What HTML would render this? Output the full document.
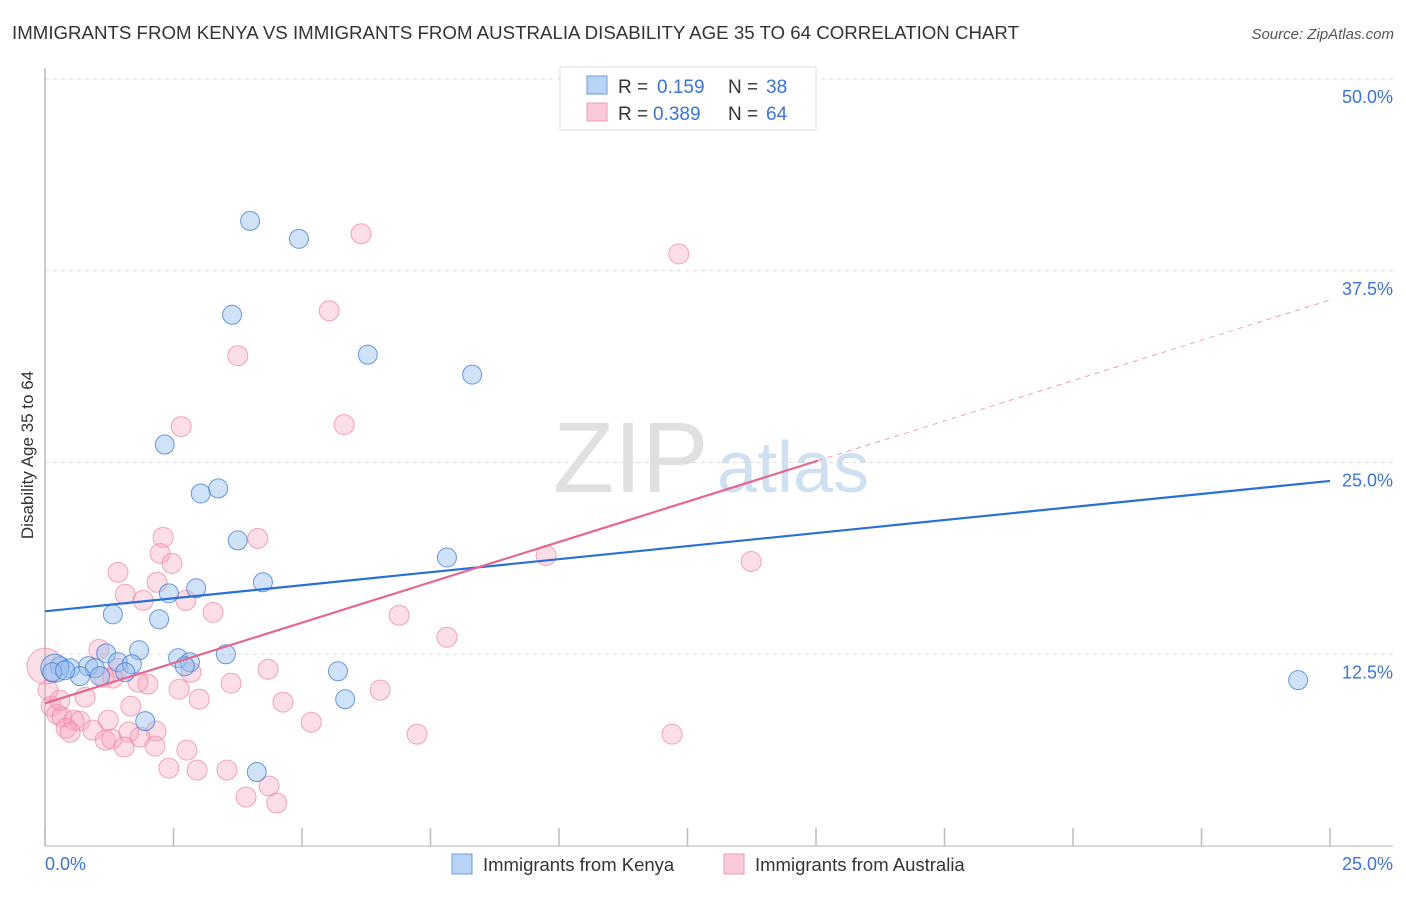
<!DOCTYPE html>
<html><head><meta charset="utf-8"><style>
body{margin:0;background:#fff;font-family:"Liberation Sans",sans-serif}
svg text{font-family:"Liberation Sans",sans-serif}
</style></head><body>
<svg width="1406" height="892" viewBox="0 0 1406 892">
<text x="12" y="39" font-size="18" fill="#333" textLength="1007" lengthAdjust="spacingAndGlyphs">IMMIGRANTS FROM KENYA VS IMMIGRANTS FROM AUSTRALIA DISABILITY AGE 35 TO 64 CORRELATION CHART</text>
<text x="1394" y="39" font-size="15" fill="#555" font-style="italic" text-anchor="end">Source: ZipAtlas.com</text>
<text x="553" y="492" font-size="100" fill="#e0e0e0" font-family="Liberation Serif">ZIP</text>
<text x="717" y="492" font-size="72" fill="#cfe0f2">atlas</text>
<g id="grid"></g>
<g id="axes"></g>
<g id="pts"></g>
<g id="lines"></g>
<text transform="translate(33,455) rotate(-90)" font-size="17" fill="#333" text-anchor="middle">Disability Age 35 to 64</text>
<text x="45" y="870" font-size="18" fill="#3b73d6">0.0%</text>
<text x="1393" y="870" font-size="18" fill="#3b73d6" text-anchor="end">25.0%</text>
<g>
<rect x="560" y="67" width="256" height="63" fill="#fff" stroke="#ddd"/>
<rect x="587" y="76" width="20" height="18" fill="#b9d3f5" stroke="#6a9ee0"/>
<rect x="587" y="103" width="20" height="18" fill="#fbcad8" stroke="#ec9ab2"/>
<text x="618" y="93" font-size="19" fill="#333">R =</text>
<text x="657" y="93" font-size="19" fill="#3b73d6">0.159</text>
<text x="728" y="93" font-size="19" fill="#333">N =</text>
<text x="766" y="93" font-size="19" fill="#3b73d6">38</text>
<text x="618" y="120" font-size="19" fill="#333">R =</text>
<text x="653" y="120" font-size="19" fill="#3b73d6">0.389</text>
<text x="728" y="120" font-size="19" fill="#333">N =</text>
<text x="766" y="120" font-size="19" fill="#3b73d6">64</text>
</g>
<g>
<rect x="452" y="854" width="20" height="20" fill="#b9d3f5" stroke="#6a9ee0"/>
<text x="483" y="871" font-size="18.5" fill="#333">Immigrants from Kenya</text>
<rect x="724" y="854" width="20" height="20" fill="#fbcad8" stroke="#ec9ab2"/>
<text x="755" y="871" font-size="18.5" fill="#333">Immigrants from Australia</text>
</g>
</svg>
<script>
const yTicks=[12.5,25,37.5,50];
const yTickLabels=["12.5%","25.0%","37.5%","50.0%"];
const xTicks=[0,2.5,5,7.5,10,12.5,15,17.5,20,22.5,25];
const kenyaX=[3.99,4.94,3.64,6.28,8.31,2.33,3.03,3.37,3.75,7.82,4.24,2.94,2.41,1.32,2.22,1.83,1.19,3.52,2.59,2.82,1.42,1.69,2.72,0.29,0.49,0.84,0.97,1.56,5.70,5.84,1.95,4.12,24.38,0.19,0.68,1.07,0.14,0.39];
const kenyaY=[40.75,39.58,34.63,32.03,30.73,26.17,22.98,23.31,19.92,18.81,17.19,16.80,16.47,15.10,14.78,12.76,12.56,12.50,12.24,11.98,11.98,11.85,11.72,11.72,11.59,11.72,11.59,11.33,11.39,9.57,8.14,4.82,10.81,11.59,11.07,11.07,11.33,11.46];
const ausX=[6.15,12.33,5.53,3.75,5.82,2.65,2.30,4.14,2.24,9.75,13.74,2.47,1.42,2.18,1.56,1.91,2.74,3.27,6.89,7.82,1.05,1.42,4.34,1.15,2.84,2.00,3.62,1.32,1.81,2.61,6.52,0.78,3.00,4.63,1.67,0.12,0.23,0.33,1.23,0.56,0.68,5.18,0.41,0.93,0.49,1.63,2.16,1.85,1.17,1.30,7.24,12.20,2.14,1.54,2.76,2.41,2.96,3.54,4.36,3.91,4.51,0,0.06,0.29];
const ausY=[39.91,38.60,34.89,31.96,27.47,27.34,20.12,20.05,19.07,18.94,18.55,18.42,17.84,17.19,16.41,16.01,16.01,15.23,15.04,13.61,12.82,11.59,11.52,11.00,11.33,10.55,10.61,10.94,10.68,10.22,10.16,9.70,9.57,9.38,9.11,9.11,8.59,8.40,8.20,8.20,8.14,8.07,7.68,7.55,7.42,7.42,7.49,7.10,6.90,6.97,7.29,7.29,6.51,6.45,6.25,5.08,4.95,4.95,3.91,3.19,2.80,11.72,10.16,9.50];
const kenyaTrend=[15.3,23.8];
const ausTrend=[9.3,35.6];
const ausSolidEnd=15.04;
const X0=45,X1=1330,Y0=846,Y1=79;
const sx=v=>X0+(X1-X0)*v/25, sy=v=>Y0-(Y0-Y1)*v/50;
const NS="http://www.w3.org/2000/svg";
function mk(t,a,p){const e=document.createElementNS(NS,t);for(const k in a)e.setAttribute(k,a[k]);p.appendChild(e);return e;}
const grid=document.getElementById('grid');
yTicks.forEach((t,i)=>{
 const l=mk('line',{x1:45,x2:1393,y1:sy(t),y2:sy(t),stroke:'#ddd','stroke-dasharray':'4,4'},grid);
 
 
 const tx=mk('text',{x:1393,y:sy(t)+24,'font-size':18,fill:'#3b73d6','text-anchor':'end'},grid);
 tx.textContent=yTickLabels[i];
 
 
});
const ax=document.getElementById('axes');
const la=mk('line',{x1:45,x2:45,y1:68,y2:846,stroke:'#bbb','stroke-width':1.5},ax);


const lb=mk('line',{x1:45,x2:1393,y1:846,y2:846,stroke:'#ccc','stroke-width':1.5},ax);


xTicks.forEach(t=>{
 const l=mk('line',{x1:sx(t),x2:sx(t),y1:828,y2:846,stroke:'#bbb','stroke-width':1.5},ax);
 
 
});
const pts=document.getElementById('pts');
ausX.forEach((x,i)=>{
 const r=i==61?18:10;
 const c=mk('circle',{cx:sx(x),cy:sy(ausY[i]),r:r,fill:'rgba(246,160,186,0.35)',stroke:'rgba(236,130,160,0.7)','stroke-width':1},pts);
 
 
});
kenyaX.forEach((x,i)=>{
 const r=i==33?14:9.5;
 const c=mk('circle',{cx:sx(x),cy:sy(kenyaY[i]),r:r,fill:'rgba(150,190,240,0.45)',stroke:'rgba(60,120,210,0.75)','stroke-width':1},pts);
 
 
});
const lines=document.getElementById('lines');
const kl=mk('line',{x1:sx(0),y1:sy(kenyaTrend[0]),x2:sx(25),y2:sy(kenyaTrend[1]),stroke:'#2a6fd6','stroke-width':2.2},lines);


const ay=x=>ausTrend[0]+(ausTrend[1]-ausTrend[0])*x/25;
const al=mk('line',{x1:sx(0),y1:sy(ay(0)),x2:sx(ausSolidEnd),y2:sy(ay(ausSolidEnd)),stroke:'#e5668f','stroke-width':2.2},lines);


const ad=mk('line',{x1:sx(ausSolidEnd),y1:sy(ay(ausSolidEnd)),x2:sx(25),y2:sy(ay(25)),stroke:'#eaa0b8','stroke-width':1,'stroke-dasharray':'5,5'},lines);


</script>
</body></html>
